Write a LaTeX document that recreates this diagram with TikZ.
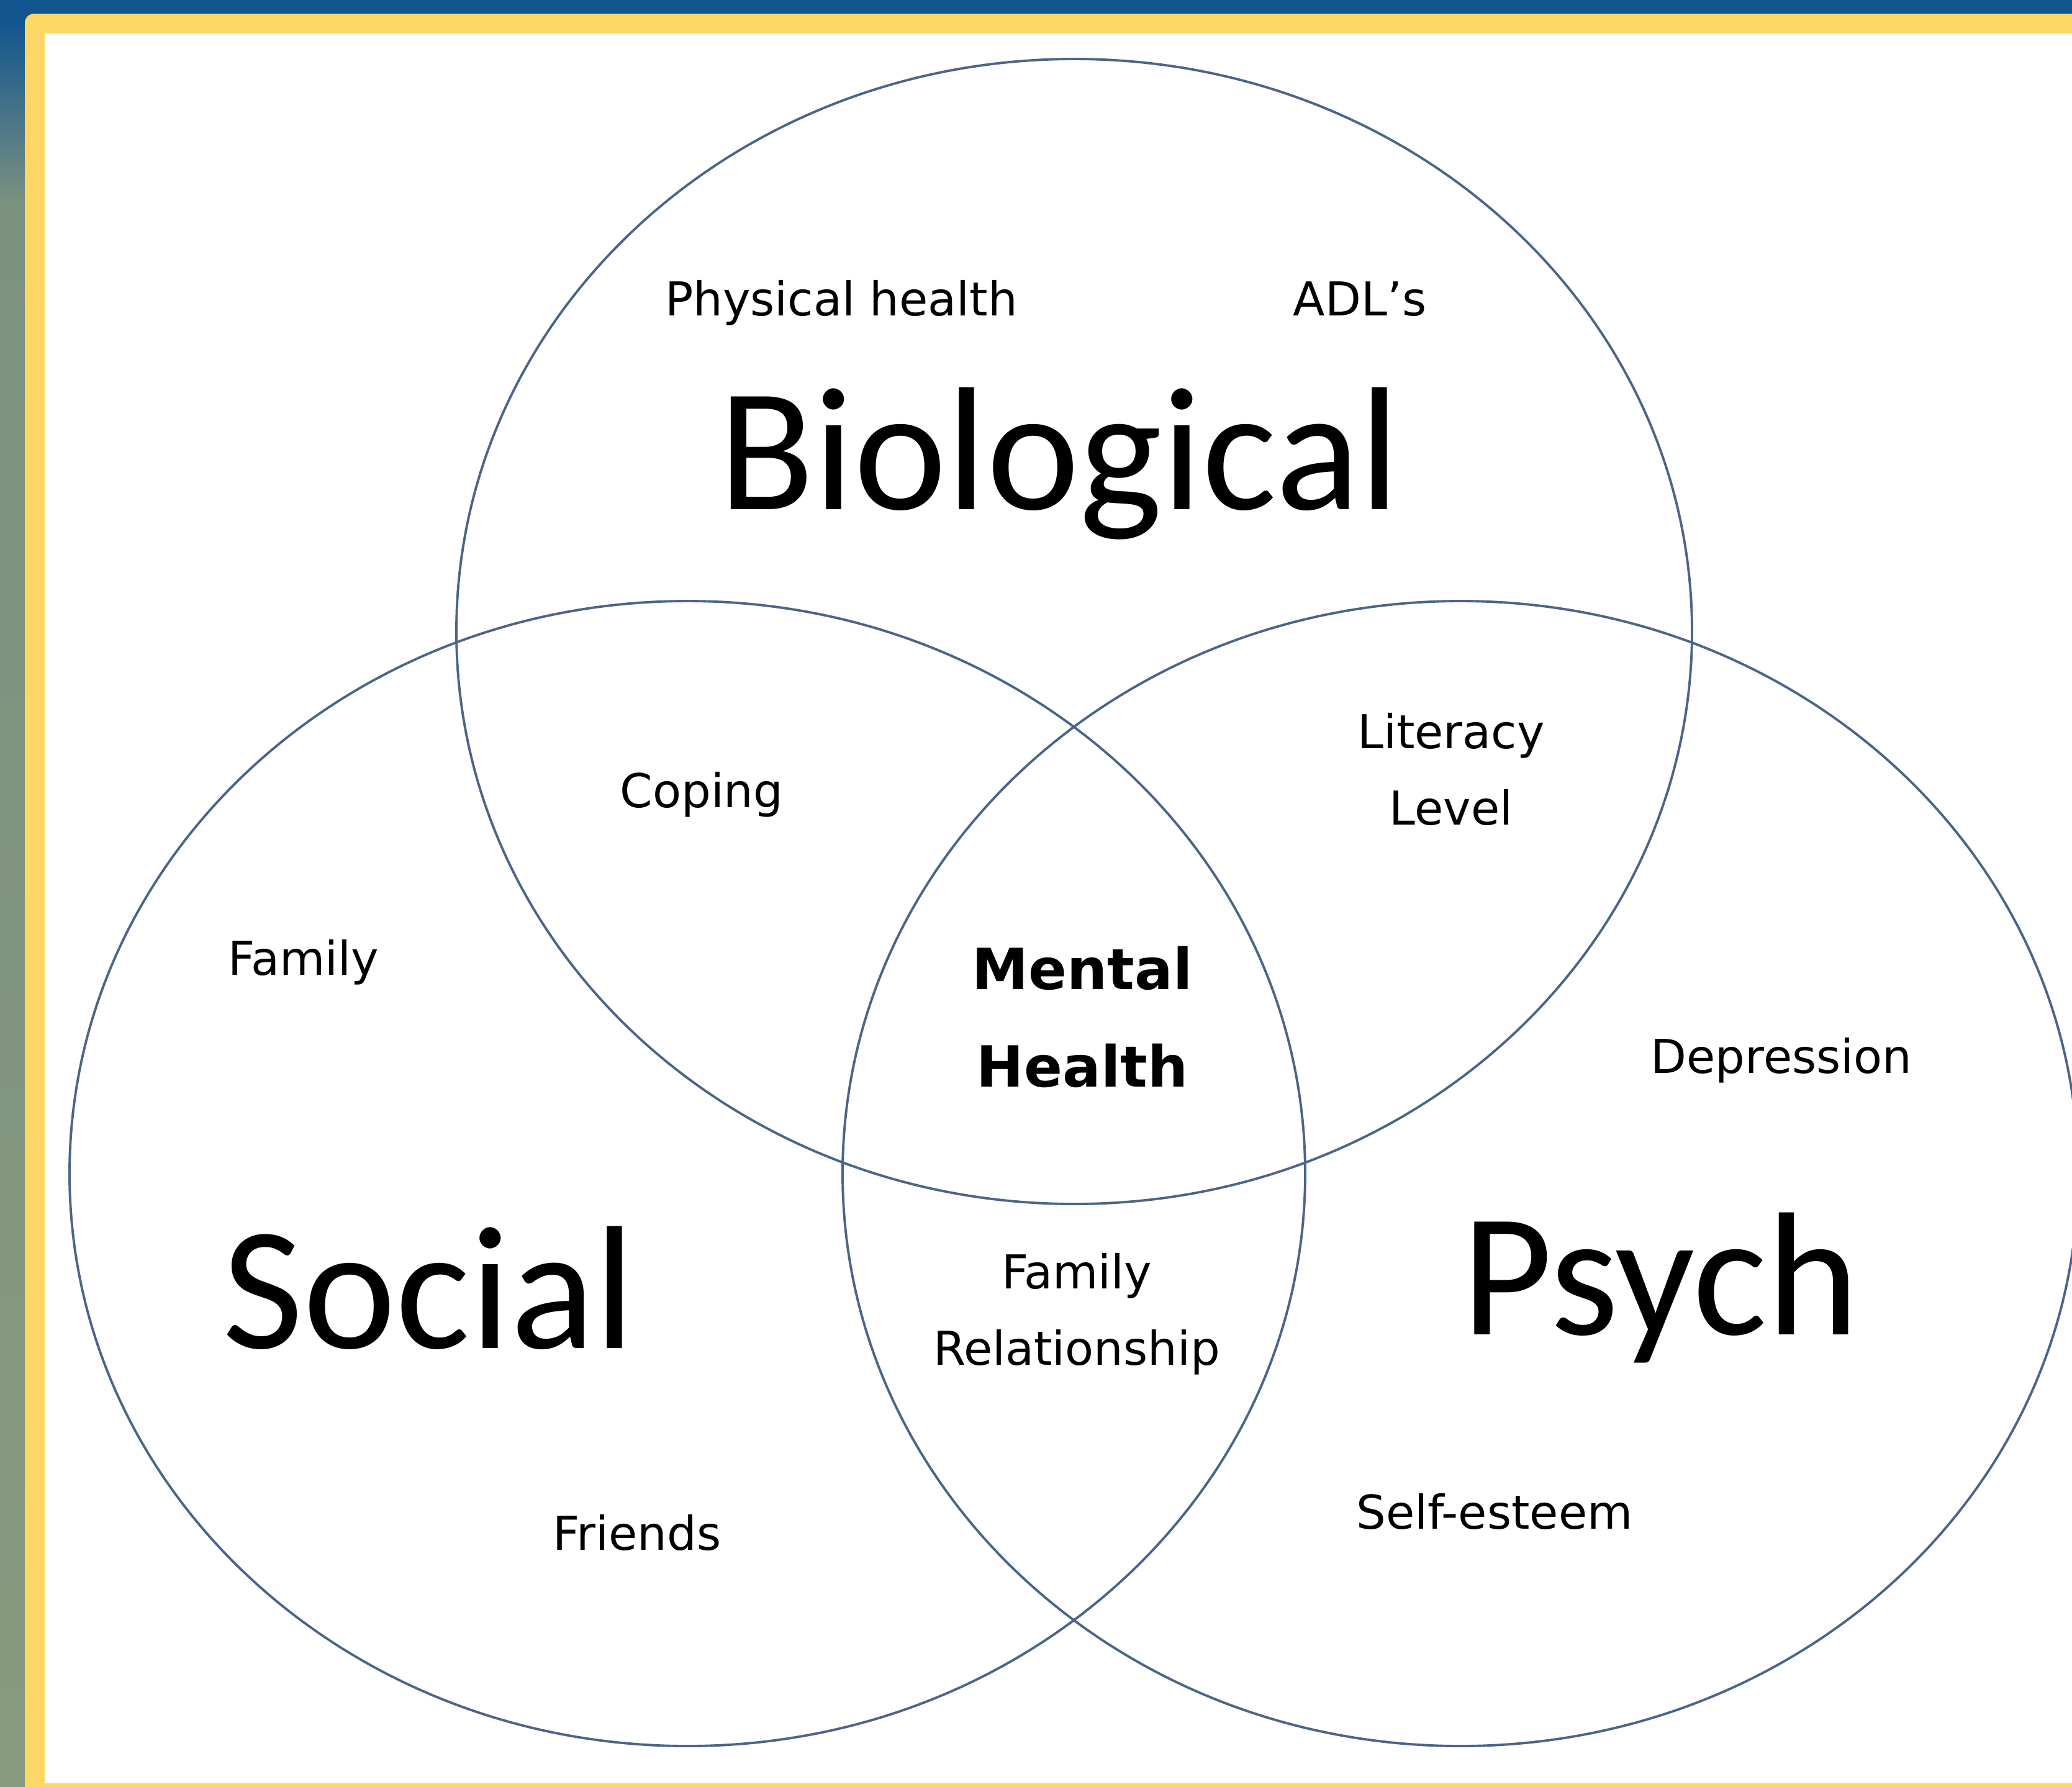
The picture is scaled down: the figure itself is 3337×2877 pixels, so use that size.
\documentclass[tikz,border=0pt]{standalone}
\usepackage{fontspec}
\setmainfont{DejaVu Sans}
\newfontfamily\headfont{Carlito}

\definecolor{frameblue}{HTML}{13568F}
\definecolor{framesage}{HTML}{7C9281}
\definecolor{framemoss}{HTML}{879A7D}
\definecolor{framegold}{HTML}{FCD766}
\definecolor{ringline}{HTML}{4A6589}

\begin{document}
\begin{tikzpicture}[x=0.1mm, y=-0.1mm,
    ring/.style={draw=ringline, line width=1.1pt},
    item/.style={anchor=base, align=center, font=\fontsize{21.4}{35}\selectfont},
    core/.style={anchor=base, align=center, font=\bfseries\fontsize{26}{44.4}\selectfont},
    headword/.style={anchor=base, font=\headfont\fontsize{80.5}{90}\selectfont}]
  \useasboundingbox (0,0) rectangle (3337,2877);

  % Slide frame
  \fill[frameblue] (0,0) rectangle (3337,2877);
  \shade[top color=frameblue, bottom color=framesage] (0,40) rectangle (40,330);
  \shade[top color=framesage, bottom color=framemoss] (0,330) rectangle (40,2877);
  \fill[framegold, rounded corners=1.5mm] (40,22) rectangle (3400,2950);
  \fill[white] (72,54) rectangle (3337,2872);

  % Circle centres
  \coordinate (bio) at (1730,1017);
  \coordinate (soc) at (1107,1890);
  \coordinate (psy) at (2352,1890);

  % Circles
  \draw[ring] (bio) ellipse [x radius=995, y radius=922];
  \draw[ring] (soc) ellipse [x radius=995, y radius=922];
  \draw[ring] (psy) ellipse [x radius=995, y radius=922];

  % Biological
  \node[headword] (biological) at (1706,820) {Biological};
  \node[item] (physical) at (1355,508) {Physical health};
  \node[item] (adl) at (2190,508) {ADL’s};

  % Social
  \node[headword] (social) at (691,2171) {Social};
  \node[item] (family) at (489,1570) {Family};
  \node[item] (friends) at (1026,2496) {Friends};

  % Psych
  \node[headword] (psych) at (2674,2149) {Psych};
  \node[item] (depression) at (2869,1728) {Depression};
  \node[item] (esteem) at (2407,2462) {Self-esteem};

  % Overlaps (base sits on the last line)
  \node[item] (coping) at (1130,1300) {Coping};
  \node[item] (literacy) at (2337,1328) {Literacy\\Level};
  \node[item] (relation) at (1734,2198) {Family\\Relationship};
  \node[core] (mental) at (1743,1750) {Mental\\Health};
\end{tikzpicture}
\end{document}
